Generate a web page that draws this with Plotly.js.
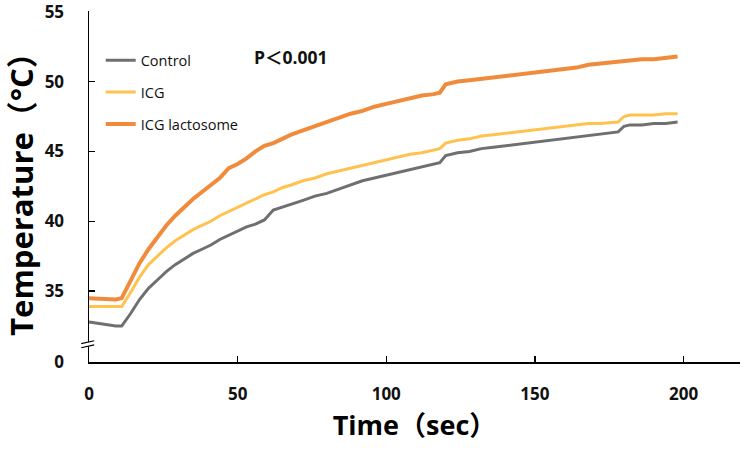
<!DOCTYPE html>
<html>
<head>
<meta charset="utf-8">
<script src="https://cdn.plot.ly/plotly-3.0.1.min.js"></script>
<style>html,body{margin:0;padding:0;background:#fff}#chart{width:750px;height:452px}</style>
</head>
<body>
<div id="chart"></div>
<script>
const timeSec = [0,3,6,9,11,14,17,20,23,26,29,32,35,38,41,44,47,50,53,56,59,62,65,68,72,76,80,84,88,92,96,100,104,108,112,116,118,120,124,128,132,136,140,144,148,152,156,160,164,168,172,176,178,180,182,186,190,194,198];

const controlTemp = [32.8,32.7,32.6,32.5,32.5,33.4,34.4,35.2,35.8,36.4,36.9,37.3,37.7,38.0,38.3,38.7,39.0,39.3,39.6,39.8,40.1,40.8,41.0,41.2,41.5,41.8,42.0,42.3,42.6,42.9,43.1,43.3,43.5,43.7,43.9,44.1,44.2,44.7,44.9,45.0,45.2,45.3,45.4,45.5,45.6,45.7,45.8,45.9,46.0,46.1,46.2,46.3,46.4,46.8,46.9,46.9,47.0,47.0,47.1];

const icgTemp = [33.9,33.9,33.85,33.85,33.9,34.9,36.0,36.9,37.5,38.1,38.6,39.0,39.4,39.7,40.0,40.4,40.7,41.0,41.3,41.6,41.9,42.1,42.4,42.6,42.9,43.1,43.4,43.6,43.8,44.0,44.2,44.4,44.6,44.8,44.9,45.1,45.2,45.6,45.8,45.9,46.1,46.2,46.3,46.4,46.5,46.6,46.7,46.8,46.9,47.0,47.0,47.1,47.1,47.5,47.6,47.6,47.6,47.7,47.7];

const lactosomeTemp = [34.5,34.45,34.45,34.4,34.5,35.7,37.0,38.0,38.9,39.7,40.4,41.0,41.6,42.1,42.6,43.1,43.8,44.1,44.5,45.0,45.4,45.6,45.9,46.2,46.5,46.8,47.1,47.4,47.7,47.9,48.2,48.4,48.6,48.8,49.0,49.1,49.2,49.8,50.0,50.1,50.2,50.3,50.4,50.5,50.6,50.7,50.8,50.9,51.0,51.2,51.3,51.4,51.4,51.5,51.5,51.6,51.6,51.7,51.8];

const seriesNames = ['Control','ICG','ICG lactosome'];
const seriesColors = ['#6f6f6f','#ffc24f','#f08b3b'];
const seriesWidths = [3,3,4];
const seriesData = [controlTemp, icgTemp, lactosomeTemp];

const xTickVals = [0,50,100,150,200];
const yTickVals = [29.93,35,40,45,50,55];
const yTickText = ['0','35','40','45','50','55'];

const traces = seriesData.map((ys,i)=>({
  x: timeSec, y: ys, type:'scatter', mode:'lines', name: seriesNames[i],
  legendgroup: 'g'+i,
  line:{color:seriesColors[i], width:seriesWidths[i]}
}));

const fam = 'Open Sans, "Noto Sans CJK JP", sans-serif';
const tickFont = {family:fam, size:17, color:'#111', weight:'bold'};

const layout = {
  width:750, height:452,
  margin:{l:89, r:10, t:11, b:90},
  paper_bgcolor:'#fff', plot_bgcolor:'#fff',
  showlegend:true,
  legend:{x:0.018, y:0.905, xanchor:'left', yanchor:'top', bgcolor:'rgba(0,0,0,0)',
          font:{family:fam, size:14.5, color:'#111'}, tracegroupgap:10, itemwidth:30},
  xaxis:{range:[0,219], tickvals:xTickVals, showline:true, linecolor:'#000', linewidth:1.5,
         ticks:'inside', ticklen:6, tickcolor:'#000', tickwidth:1.5, showgrid:false, zeroline:false,
         tickfont:tickFont, ticklabelstandoff:16, ticklabeloverflow:'allow',
         title:{text:'Time（sec）', font:{family:fam, size:27, color:'#000', weight:'bold'}, standoff:12}},
  yaxis:{range:[29.93,55.05], tickvals:yTickVals, ticktext:yTickText, showline:true, linecolor:'#000', linewidth:1.5,
         ticks:'inside', ticklen:6, tickcolor:'#000', tickwidth:1.5, showgrid:false, zeroline:false,
         tickfont:tickFont, ticklabelstandoff:20, ticklabeloverflow:'allow',
         title:{text:'Temperature（°C）', font:{family:fam, size:31, color:'#000', weight:'bold'}, standoff:6}},
  annotations:[{x:68, y:51.75, xref:'x', yref:'y', text:'P＜0.001', showarrow:false,
                font:{family:fam, size:17.5, color:'#111', weight:'bold'}}],
  shapes:[
    {type:'rect', xref:'paper', yref:'y', x0:-0.01, x1:0.01, y0:31.05, y1:31.35, fillcolor:'#fff', line:{width:0}, layer:'above'},
    {type:'line', xref:'paper', yref:'y', x0:-0.012, x1:0.008, y0:31.25, y1:31.45, line:{color:'#000', width:1.2}, layer:'above'},
    {type:'line', xref:'paper', yref:'y', x0:-0.012, x1:0.008, y0:30.95, y1:31.15, line:{color:'#000', width:1.2}, layer:'above'}
  ]
};

Plotly.newPlot('chart', traces, layout, {displayModeBar:false, staticPlot:true});
</script>
</body>
</html>
